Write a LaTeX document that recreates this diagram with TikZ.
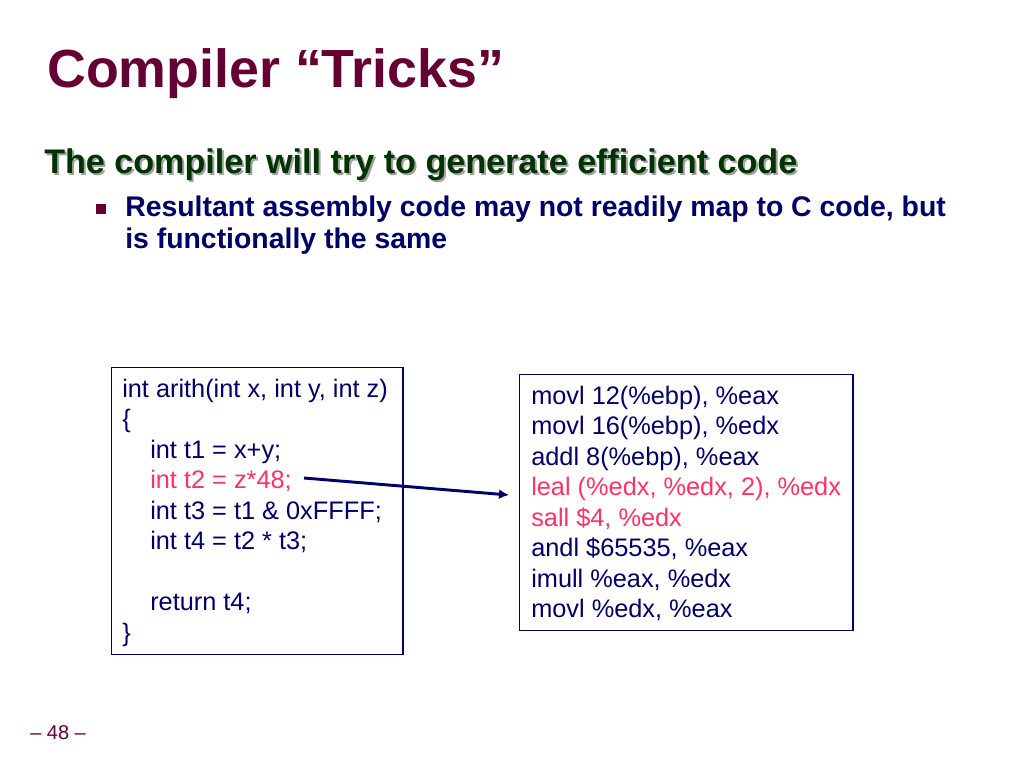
\documentclass[tikz,border=0pt]{standalone}
\usepackage{fontspec}
\setmainfont{Liberation Sans}
\usetikzlibrary{arrows.meta}

\definecolor{titlered}{RGB}{102,0,51}
\definecolor{subgreen}{RGB}{0,51,0}
\definecolor{shadowgray}{RGB}{160,160,160}
\definecolor{navy}{RGB}{0,0,102}
\definecolor{hotred}{RGB}{255,51,102}

\begin{document}
\begin{tikzpicture}[x=0.75pt,y=-0.75pt,
	title/.style={anchor=base west,inner sep=0pt,text=titlered,
		font=\fontsize{40.3}{44}\selectfont\bfseries},
	subtitle/.style={anchor=base west,inner sep=0pt,
		font=\fontsize{25.6}{30}\selectfont\bfseries},
	bullet text/.style={anchor=base west,inner sep=0pt,text=navy,
		font=\fontsize{21.3}{25}\selectfont\bfseries},
	code/.style={anchor=base west,inner sep=0pt,text=navy,
		font=\fontsize{19}{23}\selectfont},
	code box/.style={draw=navy,line width=0.9pt,anchor=north west,inner sep=0pt},
	link/.style={-{Latex[length=7.5pt,width=7.5pt]},line width=2.2pt,draw=navy}]
	
	\useasboundingbox (0,0) rectangle (1024,768);
	
	% heading
	\node[title] (title) at (47,87) {Compiler “Tricks”};
	\node[subtitle,text=shadowgray] (subshadow) at (46,175)
		{The compiler will try to generate efficient code};
	\node[subtitle,text=subgreen] (subtitle) at (44,173)
		{The compiler will try to generate efficient code};
	\node[fill=titlered,minimum size=7.5pt,inner sep=0pt] (bul) at (101,209) {};
	\node[bullet text] (b1) at (125,216)
		{Resultant assembly code may not readily map to C code, but};
	\node[bullet text] (b2) at (125,248) {is functionally the same};
	
	% C source
	\node[code box,minimum width=218.5pt,minimum height=215pt] (src) at (111,367) {};
	\foreach \txt/\x/\y/\col [count=\i] in {
		{int arith(int x, int y, int z)}/122/397/navy,
		\{/122/427.5/navy,
		{int t1 = x+y;}/150/458/navy,
		{int t2 = z*48;}/150/488.5/hotred,
		{int t3 = t1 \& 0xFFFF;}/150/519/navy,
		{int t4 = t2 * t3;}/150/549.5/navy,
		{return t4;}/150/610.5/navy,
		\}/122/641/navy}
		\node[code,text=\col] (c\i) at (\x,\y) {\txt};
	
	% assembly
	\node[code box,minimum width=250pt,minimum height=192pt] (asm) at (519,374) {};
	\foreach \txt/\col [count=\i] in {
		{movl 12(\%ebp), \%eax}/navy,
		{movl 16(\%ebp), \%edx}/navy,
		{addl 8(\%ebp), \%eax}/navy,
		{leal (\%edx, \%edx, 2), \%edx}/hotred,
		{sall \$4, \%edx}/hotred,
		{andl \$65535, \%eax}/navy,
		{imull \%eax, \%edx}/navy,
		{movl \%edx, \%eax}/navy}
		\node[code,text=\col] (a\i) at (531,404+30.5*\i-30.5) {\txt};
	
	\coordinate (from) at (304,478);
	\coordinate (to) at (509,495);
	\draw[link] (from) -- (to);
	
	\node[anchor=base west,inner sep=0pt,text=titlered,
		font=\fontsize{15}{17}\selectfont] (page) at (30,739) {– 48 –};
\end{tikzpicture}
\end{document}
